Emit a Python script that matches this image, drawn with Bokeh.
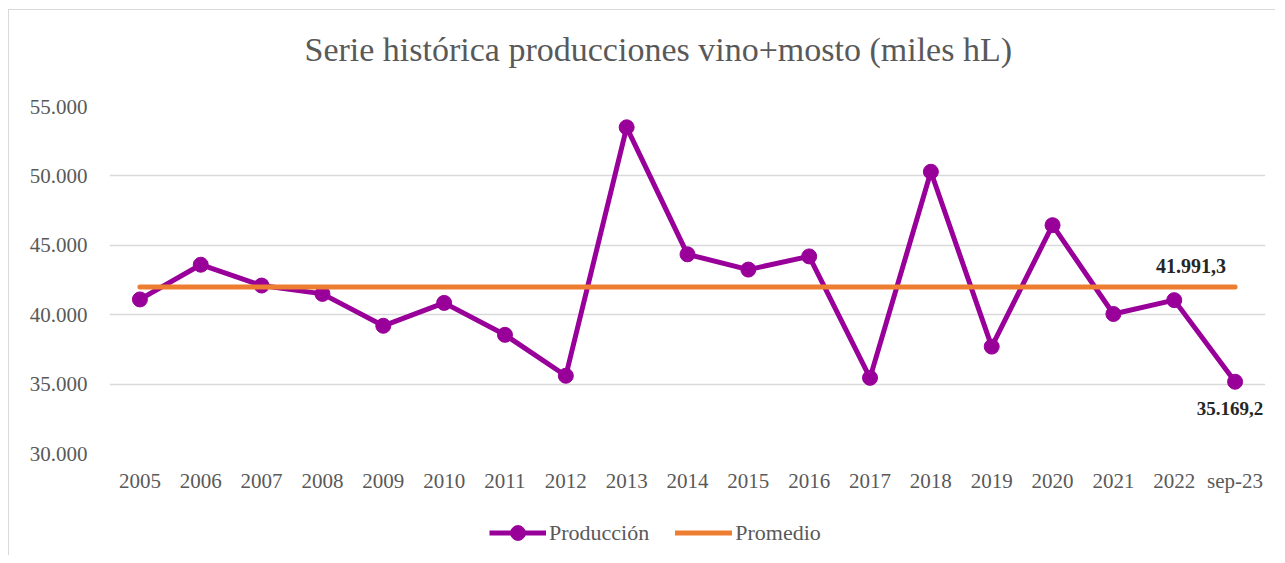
from bokeh.plotting import figure
from bokeh.layouts import column
from bokeh.models import FactorRange, Range1d, FixedTicker, Legend, LegendItem, ColumnDataSource
from bokeh.core.properties import value
from bokeh.embed import file_html
from bokeh.resources import INLINE

categories = ["2005", "2006", "2007", "2008", "2009", "2010", "2011", "2012", "2013", "2014",
              "2015", "2016", "2017", "2018", "2019", "2020", "2021", "2022", "sep-23"]
produccion = [41100, 43600, 42100, 41500, 39200, 40850, 38550, 35600, 53500, 44350,
              43250, 44200, 35450, 50300, 37700, 46450, 40050, 41050, 35169.2]
promedio_valor = 41991.3
promedio = [promedio_valor] * len(categories)
y_ticks = [30000, 35000, 40000, 45000, 50000, 55000]
y_tick_labels = ["30.000", "35.000", "40.000", "45.000", "50.000", "55.000"]
label_cat = ["sep-23"]
label_prom_text = ["41.991,3"]
label_last_text = ["35.169,2"]

FONT = "Liberation Serif"
TXT = "#595959"
PURPLE = "#990099"
ORANGE = "#ED7D31"

src = ColumnDataSource(dict(cat=categories, prod=produccion, prom=promedio))

p = figure(frame_width=1156, frame_height=347, x_range=FactorRange(*categories),
           y_range=Range1d(30000, 55000),
           output_backend="svg", toolbar_location=None,
           min_border_left=100, min_border_right=10, min_border_top=96, min_border_bottom=50)

p.title.text = "Serie histórica producciones vino+mosto (miles hL)"
p.title.align = "left"
p.title.offset = 195
p.title.text_font = FONT
p.title.text_font_size = "34px"
p.title.text_font_style = "normal"
p.title.text_color = TXT
p.title.standoff = 0
p.title.padding = (0, 0, 0, 39)

p.outline_line_color = None
p.xgrid.grid_line_color = None
p.ygrid.grid_line_color = "#D9D9D9"
p.ygrid.grid_line_width = 1.3

p.yaxis.ticker = FixedTicker(ticks=y_ticks)
p.yaxis.major_label_overrides = dict(zip(y_ticks, y_tick_labels))
for ax in (p.xaxis[0], p.yaxis[0]):
    ax.axis_line_color = None
    ax.major_tick_line_color = None
    ax.minor_tick_line_color = None
    ax.major_tick_out = 0
    ax.major_tick_in = 0
    ax.major_label_text_font = FONT
    ax.major_label_text_font_size = "21px"
    ax.major_label_text_color = TXT
p.yaxis.major_label_standoff = 22
p.xaxis.major_label_standoff = 15

p.line(x="cat", y="prod", source=src, line_color=PURPLE, line_width=5)
p.scatter(x="cat", y="prod", source=src, size=15, fill_color=PURPLE, line_color=PURPLE)
p.line(x="cat", y="prom", source=src, line_color=ORANGE, line_width=5, line_cap="round")

p.text(x=label_cat, y=[promedio_valor], text=label_prom_text, x_offset=-44, y_offset=-14,
       text_align="center", text_baseline="bottom", text_font=value(FONT), text_font_size="20px",
       text_font_style="bold", text_color="#262626")
p.text(x=label_cat, y=[produccion[-1]], text=label_last_text, x_offset=-5, y_offset=20,
       text_align="center", text_baseline="top", text_font=value(FONT), text_font_size="19px",
       text_font_style="bold", text_color="#262626")

# legend strip below the chart (series drawn outside its visible range, only the legend shows)
pl = figure(width=1266, height=52, x_range=FactorRange(*categories), y_range=Range1d(0, 1),
            x_axis_type=None, y_axis_type=None, output_backend="svg", toolbar_location=None,
            min_border=0)
pl.outline_line_color = None
pl.grid.visible = False
l1 = pl.line(x="cat", y="prod", source=src, line_color=PURPLE, line_width=5)
l2 = pl.scatter(x="cat", y="prod", source=src, size=15, fill_color=PURPLE, line_color=PURPLE)
l3 = pl.line(x="cat", y="prom", source=src, line_color=ORANGE, line_width=5, line_cap="round")
legend = Legend(items=[LegendItem(label="Producción", renderers=[l1, l2]),
                       LegendItem(label="Promedio", renderers=[l3])],
                orientation="horizontal", location=(380, 4), border_line_color=None,
                background_fill_alpha=0, label_text_font=FONT, label_text_font_size="22px",
                label_text_color=TXT, glyph_width=57, glyph_height=37, spacing=26,
                label_standoff=3, padding=0, margin=0)
pl.add_layout(legend, "center")

layout = column(p, pl, spacing=0)
layout.styles = {"border-top": "1px solid #D9D9D9", "border-left": "1px solid #D9D9D9",
                 "margin-left": "8px", "margin-top": "9px"}

open("out.html", "w").write(file_html(layout, INLINE))
